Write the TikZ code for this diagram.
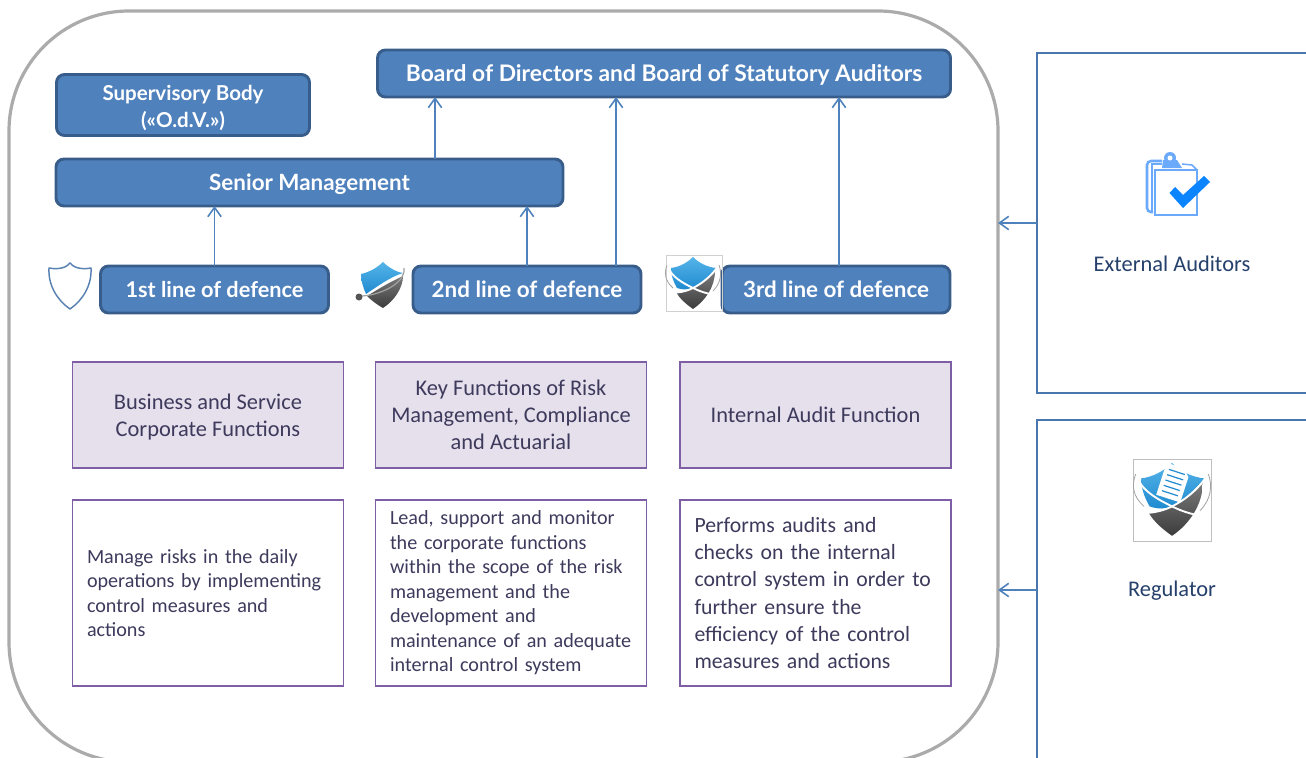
\documentclass[tikz,border=0pt]{standalone}
\usepackage{fontspec}
\setmainfont{Carlito}
\newfontfamily\hfont{Lato}
\usetikzlibrary{arrows.meta,calc}
\def\px{0.75pt}
\definecolor{bluefill}{HTML}{4F81BD}
\definecolor{blueedge}{HTML}{385D8A}
\definecolor{purpfill}{HTML}{E6DFEC}
\definecolor{purpedge}{HTML}{7E5FA6}
\definecolor{txtdark}{HTML}{3D3A5C}
\definecolor{labdark}{HTML}{24406B}
\definecolor{extedge}{HTML}{4A76B0}
\definecolor{shblue}{HTML}{1F8AD0}
\definecolor{shbluel}{HTML}{55B4E8}
\definecolor{shgrey}{HTML}{7A7A7A}
\definecolor{shdark}{HTML}{3C3C3C}
\definecolor{clipl}{HTML}{6BA9FB}
\definecolor{checkc}{HTML}{0A84FF}
\tikzset{
  sz/.style 2 args={minimum width=#1*\px,minimum height=#2*\px},
  hbox/.style={draw=blueedge,fill=bluefill,line width=2.2pt,rounded corners=6pt,inner sep=0pt,outer sep=0pt,text=white,align=center,font=\hfont\fontsize{16.8}{20}\selectfont\bfseries},
  hline/.style={hbox,text height=12.2pt,text depth=0pt},
  pbox/.style={draw=purpedge,fill=purpfill,line width=1.4pt,inner sep=0pt,outer sep=0pt,text=txtdark,align=center,font=\fontsize{16.8}{20.3}\selectfont},
  wbox/.style={draw=purpedge,fill=white,line width=1.4pt,inner sep=0pt,outer sep=0pt,text=txtdark,align=left},
  extbox/.style={draw=extedge,fill=white,line width=1.1pt,inner sep=0pt,outer sep=0pt},
  outerbox/.style={draw=black!33,line width=2.4pt,rounded corners=90pt,inner sep=0pt,outer sep=0pt},
  lab/.style={text=labdark,inner sep=0pt,font=\fontsize{16.8}{19}\selectfont},
  arr/.style={draw=bluefill,line width=1.2pt,-{Straight Barb[length=7pt,width=10pt]}},
}
\newcommand{\xshield}{%
  \shade[top color=shbluel,bottom color=shblue] (0,0) .. controls (6,6) and (14,10) .. (23,11) .. controls (16,20) and (8,27) .. (0,31) .. controls (-5,33) and (-10,33) .. (-16,31) .. controls (-20,24) and (-22,18) .. (-22,11) .. controls (-14,10) and (-6,6) .. (0,0) -- cycle;
  \shade[top color=shgrey,bottom color=shdark] (0,31) .. controls (8,27) and (16,20) .. (22,14) .. controls (22,30) and (12,44) .. (0,52) .. controls (-7,47) and (-13,42) .. (-17,35) .. controls (-11,36) and (-5,34) .. (0,31) -- cycle;
  \draw[white,line width=1.4pt] (-26,8) .. controls (-22,20) and (-10,26) .. (0,31) .. controls (8,35) and (18,38) .. (26,38);
  \draw[white,line width=1.4pt] (26,8) .. controls (18,20) and (8,27) .. (0,31) .. controls (-8,35) and (-16,36) .. (-26,36);
  \draw[shgrey!70,line width=.6pt] (-26,8) .. controls (-29,16) and (-28,24) .. (-20,31);
  \draw[shgrey!70,line width=.6pt] (26,8) .. controls (29,16) and (28,26) .. (20,34);
}
\begin{document}
\begin{tikzpicture}[x=\px,y=-\px]
\useasboundingbox (0,0) rectangle (1306,757);
\clip (0,0) rectangle (1306,757);
% outer frame
\node[outerbox,sz={989}{751}] (outer) at (503.5,386.5) {};
% external boxes
\node[extbox,sz={320}{340}] (ext) at (1197,223) {};
\node[extbox,sz={320}{340}] (reg) at (1197,590) {};
\draw[arr] (ext.west) -- (ext.west -| outer.east);
\draw[arr] (reg.west) -- (reg.west -| outer.east);
\node[lab] (extl) at (1172,264) {External Auditors};
\node[lab] (regl) at (1172,591) {Regulator};
% blue boxes
\node[hline,sz={573}{47},font=\hfont\fontsize{17.1}{20}\selectfont\bfseries] (board) at (664,73.5) {Board of Directors and Board of Statutory Auditors};
\node[hbox,sz={253}{61},font=\hfont\fontsize{15.4}{20.25}\selectfont\bfseries] (odv) at (183,105) {\rule{0pt}{16pt}Supervisory Body\\(«O.d.V.»)};
\node[hline,sz={507}{47}] (senior) at (309.5,182.5) {Senior Management};
\node[hline,sz={228}{47},font=\hfont\fontsize{16.3}{20}\selectfont\bfseries] (l1) at (214.5,289.5) {1st line of defence};
\node[hline,sz={228}{47}] (l2) at (527,289.5) {2nd line of defence};
\node[hline,sz={228}{47}] (l3) at (836,289.5) {3rd line of defence};
% connectors
\coordinate (sb) at ($(senior.north)+(125.5,0)$);
\draw[arr] (sb) -- (sb |- board.south);
\draw[arr] (l1.north) -- (l1.north |- senior.south);
\draw[arr] (l2.north) -- (l2.north |- senior.south);
\coordinate (l2b) at ($(l2.north)+(89,0)$);
\draw[arr] (l2b) -- (l2b |- board.south);
\coordinate (l3b) at ($(l3.north)+(3,0)$);
\draw[arr] (l3b) -- (l3b |- board.south);
% purple boxes
\node[pbox,sz={271}{106}] (p1) at (208,415) {\rule{0pt}{14.5pt}Business and Service\\Corporate Functions};
\node[pbox,sz={271}{106}] (p2) at (511,415) {Key Functions of Risk\\Management, Compliance\\and Actuarial};
\node[pbox,sz={271}{106}] (p3) at (815.5,415) {Internal Audit Function};
% white boxes
\node[wbox,sz={271}{186},text width=242*\px,font=\fontsize{15.1}{18.4}\selectfont] (w1) at (208,593) {Manage risks in the daily\\operations by implementing\\control measures and\\actions};
\node[wbox,sz={271}{186},text width=242*\px,font=\fontsize{15.1}{18.4}\selectfont] (w2) at (511,593) {Lead, support and monitor\\the corporate functions\\within the scope of the risk\\management and the\\development and\\maintenance of an adequate\\internal control system};
\node[wbox,sz={271}{186},text width=242*\px,font=\fontsize{16.3}{20.3}\selectfont] (w3) at (815.5,593) {Performs audits and\\checks on the internal\\control system in order to\\further ensure the\\efficiency of the control\\measures and actions};
% shield 1
\draw[bluefill!80!gray,line width=1.1pt,line join=round] (70,263) .. controls (73,267) and (80,270) .. (91,268) .. controls (92,285) and (83,300) .. (70,309) .. controls (57,300) and (48,285) .. (49,268) .. controls (60,270) and (67,267) .. (70,263) -- cycle;
% shield 2
\shade[top color=shbluel,bottom color=shblue] (383,262) .. controls (388,267) and (396,272) .. (403,273) .. controls (390,277) and (378,286) .. (366,294) .. controls (363,287) and (361,281) .. (361,274) .. controls (370,272) and (378,267) .. (383,262) -- cycle;
\shade[top color=shgrey,bottom color=shdark] (403,276) .. controls (403,288) and (394,301) .. (383,308) .. controls (376,304) and (371,300) .. (367,296) .. controls (380,288) and (390,282) .. (403,276) -- cycle;
\draw[shgrey!70,line width=.9pt] (360,296) .. controls (378,296) and (406,284) .. (404,268);
\fill[shgrey!70!black] (359,297) circle (3.5);
% shield 3
\draw[black!18,line width=.6pt] (666,255) rectangle (722,311);
\begin{scope}[shift={(693,257)}]
\xshield
\end{scope}
% regulator icon
\draw[black!25,fill=white,line width=.7pt] (1133,459) rectangle (1211,541);
\begin{scope}[shift={(1172,463)},scale=1.4]
\xshield
\begin{scope}[shift={(1,14)},rotate=-18]
\fill[white] (-9,-12) -- (4,-12) -- (9,-7) -- (9,12) -- (-9,12) -- cycle;
\foreach \yy in {-8,-4,0,4,8} \draw[shblue,line width=.9pt] (-6,\yy) -- (6,\yy);
\end{scope}
\end{scope}
% clipboard icon
\draw[clipl,line width=1.9pt,rounded corners=3pt] (1153,212) -- (1147,212) -- (1147,161) -- (1162,161);
\draw[clipl,line width=.8pt] (1152,213) -- (1152,164) -- (1162,164);
\draw[clipl,line width=1.1pt] (1155,170) -- (1197,170) -- (1197,215) -- (1155,215) -- cycle;
\draw[clipl,line width=1.1pt] (1182,164) -- (1192,165) -- (1197,170);
\fill[clipl] (1170,158) circle (6);
\fill[clipl] (1163,160) -- (1177,160) -- (1182,168) -- (1162,168) -- cycle;
\fill[white] (1170,158) circle (2.5);
\fill[checkc] (1169.5,193) -- (1175,187) -- (1183,195) -- (1204,176) -- (1210,182) -- (1183,208) -- cycle;
\end{tikzpicture}
\end{document}
